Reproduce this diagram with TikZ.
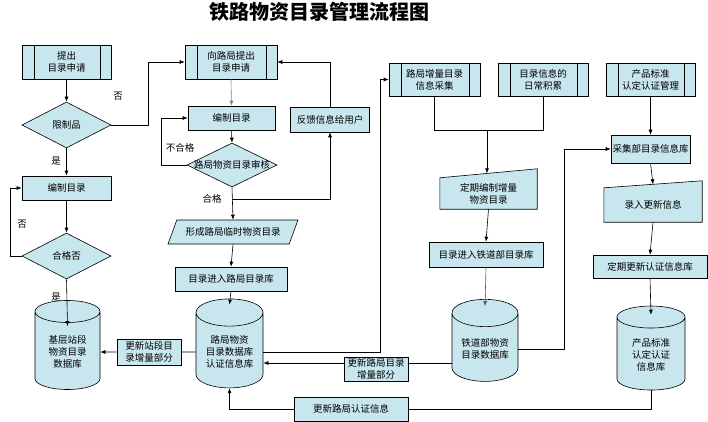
\documentclass[tikz,border=0pt]{standalone}
\usepackage{fontspec}
\newfontfamily\cjk{Noto Sans CJK SC}
\usepackage{tikz}
\usetikzlibrary{shapes,arrows,positioning,calc,arrows.meta,backgrounds}
\definecolor{boxfill}{RGB}{200,230,238}

\tikzset{
  base/.style={draw, fill=boxfill, line width=0.6pt, inner sep=1pt, align=center,
    font=\cjk\fontsize{9.5}{12}\selectfont},
  proc/.style={base, rectangle, minimum height=24pt},
  subproc/.style={base, rectangle, minimum height=34pt,
    path picture={
      \draw[line width=0.6pt] ([xshift=12pt]path picture bounding box.north west) -- ([xshift=12pt]path picture bounding box.south west);
      \draw[line width=0.6pt] ([xshift=-11pt]path picture bounding box.north east) -- ([xshift=-11pt]path picture bounding box.south east);
    }},
  decide/.style={base, diamond, inner sep=0pt, minimum width=89pt, minimum height=46pt},
  iobox/.style={base, trapezium, trapezium left angle=55, trapezium right angle=125,
    trapezium stretches=true, minimum height=24pt},
  manual/.style={inner sep=0pt, align=center, font=\cjk\fontsize{9.5}{12}\selectfont},
  store/.style={base, cylinder, shape border rotate=90, aspect=0.55, minimum width=66pt},
  lbl/.style={font=\cjk\fontsize{9.5}{12}\selectfont},
  ln/.style={line width=0.6pt},
  arr/.style={line width=0.6pt, -{Latex[length=5pt,width=4pt]}}
}

\begin{document}
\begin{tikzpicture}[x=1pt,y=-1pt]
    \useasboundingbox (0,0) rectangle (708,422);

    \node[font=\cjk\fontsize{20}{24}\selectfont\bfseries] (title) at (319,12) {铁路物资目录管理流程图};

    % station column
    \node[subproc, minimum width=89pt] (a1) at (66.5,62) {提出\\目录申请};
    \node[decide, label=center:{\cjk\fontsize{9.5}{12}\selectfont 限制品}] (d1) at (66.5,125) {};
    \node[proc, minimum width=89pt] (b1) at (66.5,188) {编制目录};
    \node[decide, label=center:{\cjk\fontsize{9.5}{12}\selectfont 合格否}] (d2) at (66.5,256) {};
    \node[store, minimum height=89pt, minimum width=65pt] (db1) at (67.5,352) {基层站段\\物资目录\\数据库};
    \node[proc, minimum width=64pt, minimum height=26pt] (u1) at (149,352) {更新站段目\\录增量部分};

    % bureau column
    \node[subproc, minimum width=92pt] (a2) at (231,62) {向路局提出\\目录申请};
    \node[proc, minimum width=87pt] (b2) at (231.5,118) {编制目录};
    \node[decide, minimum width=90pt, minimum height=44pt,
          label=center:{\cjk\fontsize{9.5}{12}\selectfont 路局物资目录审核}] (d3) at (232,165) {};
    \node[proc, minimum width=79pt, minimum height=25pt] (f1) at (330,119.5) {反馈信息给用户};
    \node[iobox, minimum width=130pt] (p1) at (233,232) {形成路局临时物资目录};
    \node[proc, minimum width=112pt] (b3) at (231,279) {目录进入路局目录库};
    \node[store, minimum height=89pt, minimum width=67pt] (db2) at (229.5,352) {路局物资\\目录数据库\\认证信息库};
    \node[proc, minimum width=64pt] (u2) at (376,369) {更新路局目录\\增量部分};
    \node[proc, minimum width=114pt] (u3) at (351,409) {更新路局认证信息};

    % ministry column
    \node[subproc, minimum width=91pt, minimum height=33pt] (p2) at (434.5,79.5) {路局增量目录\\信息采集};
    \node[subproc, minimum width=90pt, minimum height=33pt] (p3) at (543,79.5) {目录信息的\\日常积累};
    \node[subproc, minimum width=89pt, minimum height=33pt] (p4) at (650.5,79.5) {产品标准\\认定认证管理};
    \node[manual, minimum width=97pt, minimum height=31pt] (t1) at (488.5,193.5) {定期编制增量\\物资目录};
    \node[proc, minimum width=114pt, minimum height=25pt] (b4) at (486,254.5) {目录进入铁道部目录库};
    \node[store, minimum height=82pt, minimum width=66pt] (db3) at (485,349) {铁道部物资\\目录数据库};
    \node[proc, minimum width=79pt, minimum height=28pt] (c1) at (650.5,149) {采集部目录信息库};
    \node[manual, minimum width=98pt, minimum height=34pt] (t2) at (653,205) {录入更新信息};
    \node[proc, minimum width=114pt, minimum height=23pt] (b5) at (650,266.5) {定期更新认证信息库};
    \node[store, minimum height=84pt, minimum width=68pt] (db4) at (651,355) {产品标准\\认定认证\\信息库};

    % manual input outlines
    \begin{scope}[on background layer]
        \draw[ln, fill=boxfill] (t1.south west) -- (t1.south east) -- ([yshift=9pt]t1.north east) -- (t1.north west) -- cycle;
        \draw[ln, fill=boxfill] (t2.south west) -- (t2.south east) -- ([yshift=7pt]t2.north east) -- (t2.north west) -- cycle;
    \end{scope}

    % straight arrows
    \foreach \a/\b in {a1/d1, d1/b1, b1/d2, b2/d3, d3/p1, p1/b3, t1/b4, p4/c1, t2/b5}
        \draw[arr] (\a.south) -- (\b.north);
    \draw[arr, gray] (a2.south) -- (b2.north);

    % arrows into the stores
    \draw[arr] (d2.south) -- ([yshift=-26pt]db1.north);
    \draw[arr] (b3.south) -- ([yshift=-6pt]db2.north);
    \draw[arr, gray!70!black] (b4.south) -- ([yshift=-7pt]db3.north);
    \draw[arr] (b5.south) -- ([yshift=-9pt]db4.north);
    \draw[arr] (c1.south) -- ([yshift=3.5pt]t2.north);

    % loops and branches
    \draw[arr] (d1.east) -- ++(37,0) |- (a2.west);
    \draw[arr] (d2.west) -- ++(-11,0) |- (b1.west);
    \draw[arr] (d3.west) -- ++(-25,0) |- (b2.west);
    \draw[arr] (d3.south) ++(0,12) -| (f1.south);
    \draw[arr] (f1.north) |- (a2.east);

    \node[lbl] (no1) at (118,96) {否};
    \node[lbl] (yes1) at (56,161) {是};
    \node[lbl] (no2) at (22,224) {否};
    \node[lbl] (yes2) at (56,297) {是};
    \node[lbl] (fail) at (180,148) {不合格};
    \node[lbl] (pass) at (212,199) {合格};

    % ministry collection
    \coordinate (join) at (487,130);
    \draw[ln] (p2.south) -- ++(0,34) -| (p3.south);
    \draw[arr] (join) -- ([yshift=4.5pt]t1.north -| join);
    \draw[arr] (db2.east) -- ++(117,0) |- (p2.west);
    \draw[arr] (db3.east) -- ++(46,0) |- (c1.west);

    % updates back to the stores
    \draw[ln] (db2.west) -- (u1.east);
    \draw[arr] (u1.west) -- (db1.east);
    \coordinate (u2in) at ([yshift=6pt]u2.east);
    \coordinate (u2out) at ([yshift=6pt]u2.west);
    \draw[ln] (db3.west |- u2in) -- (u2in);
    \draw[arr] (u2out) -- (db2.east |- u2out);
    \draw[ln] (db4.south) |- (u3.east);
    \draw[arr] (u3.west) -| (db2.south);
\end{tikzpicture}
\end{document}
